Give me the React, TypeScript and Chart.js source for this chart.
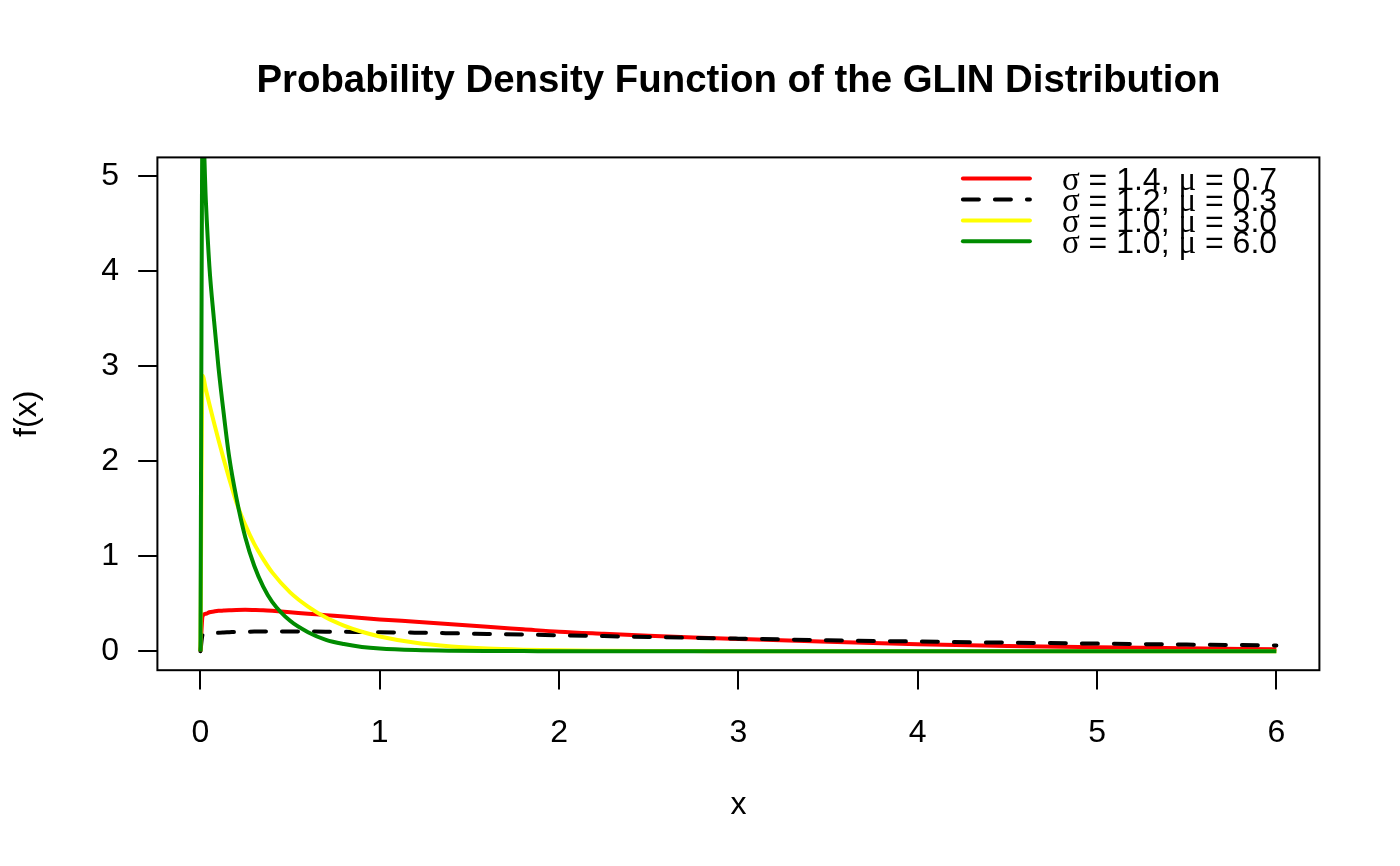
import React, { useEffect, useRef } from 'react';
import { Chart, registerables } from 'chart.js';

Chart.register(...registerables);

// sample positions along x, denser near 0 where the curves change fast
const xGrid = [
  0, 0.012, 0.03, 0.05, 0.075, 0.1, 0.13, 0.16, 0.2, 0.25, 0.3, 0.35, 0.4, 0.5, 0.6, 0.7,
  0.8, 0.9, 1.0, 1.2, 1.4, 1.6, 1.8, 2.0, 2.25, 2.5, 2.75, 3.0, 3.5, 4.0, 4.5, 5.0, 5.5, 6.0,
];

// sigma = 1.4, mu = 0.7
const densityA = [
  0, 0.37, 0.395, 0.41, 0.418, 0.425, 0.428, 0.431, 0.435, 0.436, 0.434, 0.431, 0.425, 0.41, 0.395, 0.38,
  0.365, 0.35, 0.335, 0.31, 0.284, 0.257, 0.231, 0.205, 0.183, 0.163, 0.145, 0.129, 0.099, 0.074, 0.055,
  0.041, 0.03, 0.021,
];

// sigma = 1.2, mu = 0.3
const densityB = [
  0, 0.17, 0.18, 0.186, 0.19, 0.195, 0.198, 0.2, 0.203, 0.205, 0.207, 0.208, 0.208, 0.208, 0.207, 0.206,
  0.204, 0.202, 0.2, 0.195, 0.189, 0.182, 0.175, 0.168, 0.159, 0.15, 0.141, 0.132, 0.116, 0.102, 0.09,
  0.08, 0.07, 0.061,
];

// sigma = 1.0, mu = 3.0
const densityC = [
  0, 2.9, 2.76, 2.6, 2.41, 2.23, 2.02, 1.82, 1.57, 1.33, 1.13, 0.97, 0.83, 0.62, 0.47, 0.355,
  0.27, 0.205, 0.155, 0.088, 0.05, 0.028, 0.016, 0.009, 0.005, 0.002, 0.001, 0, 0, 0, 0,
  0, 0, 0,
];

// sigma = 1.0, mu = 6.0
const densityD = [
  0, 5.6, 4.75, 4.05, 3.5, 3.0, 2.5, 2.05, 1.62, 1.2, 0.9, 0.68, 0.52, 0.32, 0.2, 0.12,
  0.075, 0.045, 0.028, 0.012, 0.005, 0.002, 0.001, 0, 0, 0, 0, 0, 0, 0, 0,
  0, 0, 0,
];

const sigmaValues = ['1.4', '1.2', '1.0', '1.0'];
const muValues = ['0.7', '0.3', '3.0', '6.0'];

const xTicks = [0, 1, 2, 3, 4, 5, 6];
const yTicks = [0, 1, 2, 3, 4, 5];

const titleText = 'Probability Density Function of the GLIN Distribution';
const xLabel = 'x';
const yLabel = 'f(x)';

const SANS = '"Liberation Sans", Arial, sans-serif';
const SERIF = '"Liberation Serif", "DejaVu Serif", serif';

const toPoints = (ys: number[]) => xGrid.map((x, i) => ({ x, y: ys[i] }));

// draws the box, title, axis labels and the base-R style legend
const rPlotPlugin = {
  id: 'rPlot',
  afterDraw(chart: Chart) {
    const { ctx, chartArea: a } = chart;
    ctx.save();

    ctx.strokeStyle = '#000';
    ctx.lineWidth = 2;
    ctx.strokeRect(a.left, a.top, a.right - a.left, a.bottom - a.top);

    const midX = (a.left + a.right) / 2;
    const midY = (a.top + a.bottom) / 2;
    ctx.fillStyle = '#000';
    ctx.textBaseline = 'alphabetic';

    ctx.font = `bold 38.4px ${SANS}`;
    ctx.textAlign = 'center';
    ctx.fillText(titleText, midX, a.top - 65.4);

    ctx.font = `32px ${SANS}`;
    ctx.fillText(xLabel, midX, a.bottom + 144);

    ctx.save();
    ctx.translate(a.left - 121, midY);
    ctx.rotate(-Math.PI / 2);
    ctx.fillText(yLabel, 0, 0);
    ctx.restore();

    // legend
    const lineX0 = a.right - 356.5;
    const lineX1 = lineX0 + 67;
    const textX = lineX0 + 99;
    chart.data.datasets.forEach((ds: any, i: number) => {
      const y = a.top + 21.2 + 20.9 * i;
      ctx.beginPath();
      ctx.strokeStyle = ds.borderColor;
      ctx.lineWidth = 4;
      ctx.lineCap = 'round';
      ctx.setLineDash(ds.borderDash || []);
      ctx.moveTo(lineX0, y);
      ctx.lineTo(lineX1, y);
      ctx.stroke();
      ctx.setLineDash([]);

      const parts = [
        { t: 'σ', greek: true },
        { t: ` = ${sigmaValues[i]}, ` },
        { t: 'μ', greek: true },
        { t: ` = ${muValues[i]}` },
      ];
      let x = textX;
      ctx.textAlign = 'left';
      ctx.fillStyle = '#000';
      parts.forEach((p) => {
        ctx.font = p.greek ? `33px ${SERIF}` : `32px ${SANS}`;
        ctx.fillText(p.t, x, y + 11.5);
        x += ctx.measureText(p.t).width;
      });
    });

    ctx.restore();
  },
};

const GlinDensityChart: React.FC = () => {
  const canvasRef = useRef<HTMLCanvasElement>(null);

  useEffect(() => {
    const ctx = canvasRef.current?.getContext('2d');
    if (!ctx) return;

    const base = {
      pointRadius: 0,
      borderWidth: 4,
      fill: false,
      cubicInterpolationMode: 'monotone' as const,
      clip: 0,
    };

    const chart = new Chart(ctx, {
      type: 'line',
      data: {
        datasets: [
          { ...base, label: 'a', data: toPoints(densityA), borderColor: '#FF0000', order: 4 },
          {
            ...base,
            label: 'b',
            data: toPoints(densityB),
            borderColor: '#000000',
            borderDash: [16, 16],
            borderCapStyle: 'round',
            order: 3,
          },
          { ...base, label: 'c', data: toPoints(densityC), borderColor: '#FFFF00', order: 2 },
          { ...base, label: 'd', data: toPoints(densityD), borderColor: '#008B00', order: 1 },
        ],
      },
      options: {
        animation: false,
        responsive: true,
        maintainAspectRatio: false,
        layout: { padding: { top: 157.4, right: 80.6, left: 0, bottom: 0 } },
        plugins: {
          legend: { display: false },
          tooltip: { enabled: false },
          title: { display: false },
        },
        scales: {
          x: {
            type: 'linear',
            min: -0.24,
            max: 6.24,
            afterBuildTicks: (s: any) => {
              s.ticks = xTicks.map((v) => ({ value: v }));
            },
            afterFit: (s: any) => {
              s.height = 195.8;
            },
            border: { display: false },
            grid: { drawOnChartArea: false, tickLength: 19.2, lineWidth: 2, color: '#000', tickColor: '#000' },
            ticks: {
              font: { family: SANS, size: 32 },
              color: '#000',
              padding: 25,
              maxRotation: 0,
              autoSkip: false,
              callback: (v: any) => String(v),
            },
          },
          y: {
            type: 'linear',
            min: -0.2,
            max: 5.2,
            afterBuildTicks: (s: any) => {
              s.ticks = yTicks.map((v) => ({ value: v }));
            },
            afterFit: (s: any) => {
              s.width = 157.4;
            },
            border: { display: false },
            grid: { drawOnChartArea: false, tickLength: 19.2, lineWidth: 2, color: '#000', tickColor: '#000' },
            ticks: {
              font: { family: SANS, size: 32 },
              color: '#000',
              padding: 19.2,
              autoSkip: false,
              callback: (v: any) => String(v),
            },
          },
        },
      },
      plugins: [rPlotPlugin],
    });

    return () => {
      chart.destroy();
    };
  }, []);

  return (
    <div style={{ position: 'absolute', left: 0, top: 0, width: 1400, height: 866, background: '#fff' }}>
      <canvas ref={canvasRef} />
    </div>
  );
};

export default function App() {
  return <GlinDensityChart />;
}
